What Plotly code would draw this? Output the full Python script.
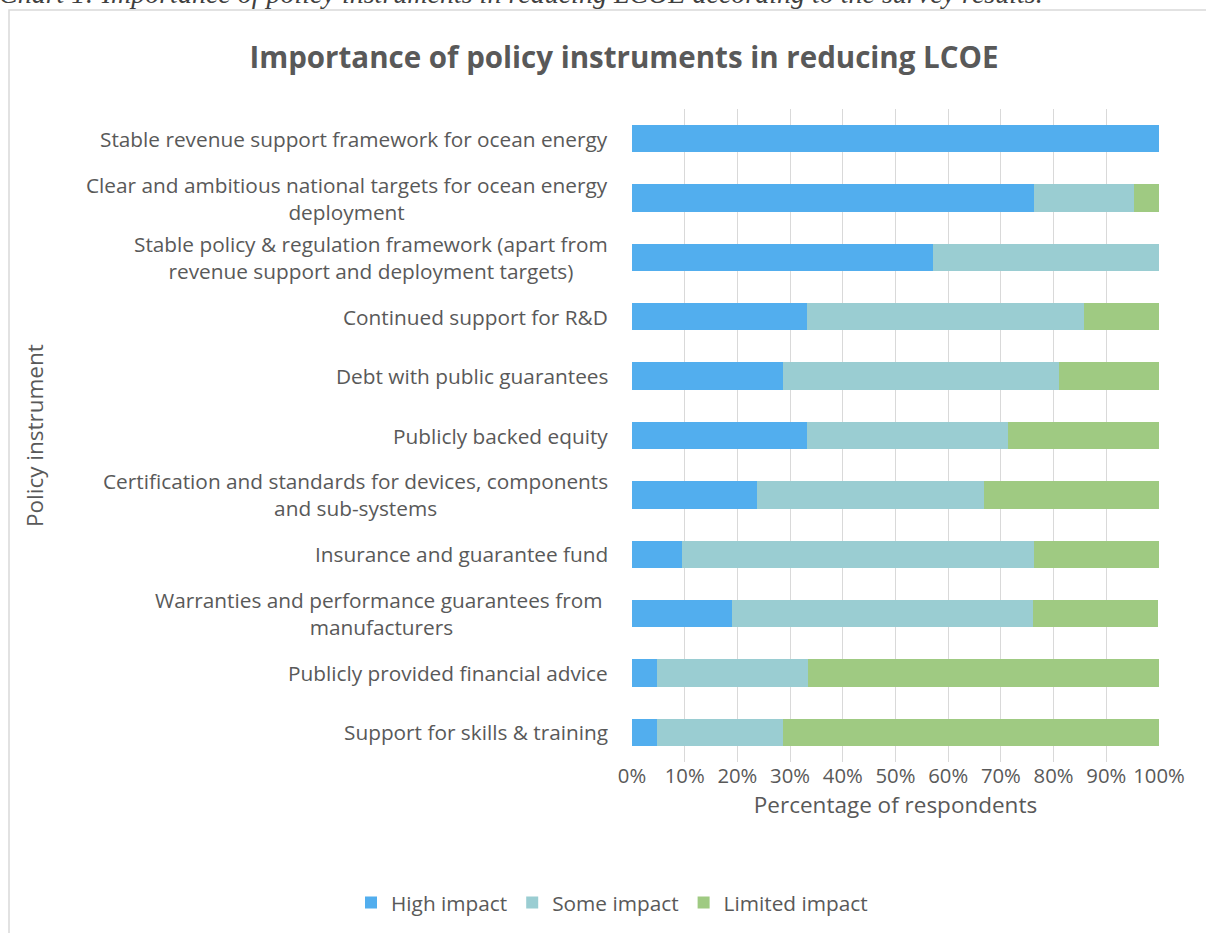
import plotly.graph_objects as go

categories = [
    "Stable revenue support framework for ocean energy",
    "Clear and ambitious national targets for ocean energy<br>deployment",
    "Stable policy & regulation framework (apart from<br>revenue support and deployment targets)",
    "Continued support for R&D",
    "Debt with public guarantees",
    "Publicly backed equity",
    "Certification and standards for devices, components<br>and sub-systems",
    "Insurance and guarantee fund",
    "Warranties and performance guarantees from <br>manufacturers",
    "Publicly provided financial advice",
    "Support for skills & training",
]
high_impact = [100.0, 76.2, 57.1, 33.3, 28.6, 33.3, 23.8, 9.5, 19.0, 4.8, 4.8]
some_impact = [0.0, 19.0, 42.9, 52.4, 52.4, 38.1, 42.9, 66.7, 57.1, 28.6, 23.8]
limited_impact = [0.0, 4.8, 0.0, 14.3, 19.0, 28.6, 33.3, 23.8, 23.8, 66.7, 71.4]

series_names = ["High impact", "Some impact", "Limited impact"]
series_colors = ["#52AEEE", "#9ACDD2", "#9FCA82"]

W, H = 1206, 933
L, R, T, B = 632, 47, 109, 171
PW, PH = W - L - R, H - T - B

def px_x(p):
    return (p - L) / PW

def px_y(p):
    return 1 + (T - p) / PH

TXT = "#595959"
FONT = "Open Sans"

fig = go.Figure()
for name, vals, col in zip(series_names, [high_impact, some_impact, limited_impact], series_colors):
    fig.add_trace(go.Bar(
        y=categories, x=vals, name=name, orientation="h",
        marker=dict(color=col, line=dict(width=0)),
        width=0.46,
    ))

annotations = []
for c in categories:
    annotations.append(dict(
        x=0, xref="paper", y=c, yref="y", xanchor="right", yanchor="middle",
        xshift=-22, text=c, showarrow=False, align="center",
        font=dict(family=FONT, size=20.8, color=TXT),
    ))
annotations.append(dict(
    x=px_x(35), xref="paper", y=px_y(436), yref="paper", text="Policy instrument",
    textangle=-90, showarrow=False, xanchor="center", yanchor="middle",
    font=dict(family=FONT, size=22.5, color=TXT),
))
annotations.append(dict(
    x=px_x(-3), xref="paper", y=px_y(-6), yref="paper", xanchor="left", yanchor="middle",
    text="<i>Chart 1: Importance of policy instruments in reducing LCOE according to the survey results.</i>",
    showarrow=False, font=dict(family="Liberation Serif", size=28, color="#404040"),
))

fig.update_layout(
    width=W, height=H,
    margin=dict(l=L, r=R, t=T, b=B, autoexpand=False),
    paper_bgcolor="white", plot_bgcolor="white",
    barmode="stack",
    bargap=0.54,
    title=dict(text="<b>Importance of policy instruments in reducing LCOE</b>",
               x=624 / W, xref="container", xanchor="center",
               y=1 - 58 / H, yref="container", yanchor="middle",
               font=dict(family=FONT, size=29.5, color=TXT)),
    xaxis=dict(range=[0, 100], dtick=10, ticksuffix="%", showgrid=True,
               gridcolor="#D9D9D9", gridwidth=1.3, zeroline=False, showline=False,
               tickfont=dict(family=FONT, size=20.3, color=TXT),
               ticklabelstandoff=0,
               title=dict(text="Percentage of respondents", standoff=8,
                          font=dict(family=FONT, size=22.5, color=TXT)),
               fixedrange=True),
    yaxis=dict(autorange="reversed", showticklabels=False, showgrid=False,
               zeroline=False, showline=False, fixedrange=True),
    legend=dict(orientation="h", x=px_x(612), xanchor="center", y=px_y(903), yanchor="middle",
                font=dict(family=FONT, size=20.8, color=TXT), traceorder="normal",
                itemwidth=30),
    annotations=annotations,
    shapes=[dict(type="rect", xref="paper", yref="paper",
                 x0=px_x(9), x1=px_x(1225), y0=px_y(10), y1=px_y(950),
                 line=dict(color="#D9D9D9", width=1.5), fillcolor="rgba(0,0,0,0)", layer="below")],
    showlegend=True,
)

fig.write_html("out.html")
